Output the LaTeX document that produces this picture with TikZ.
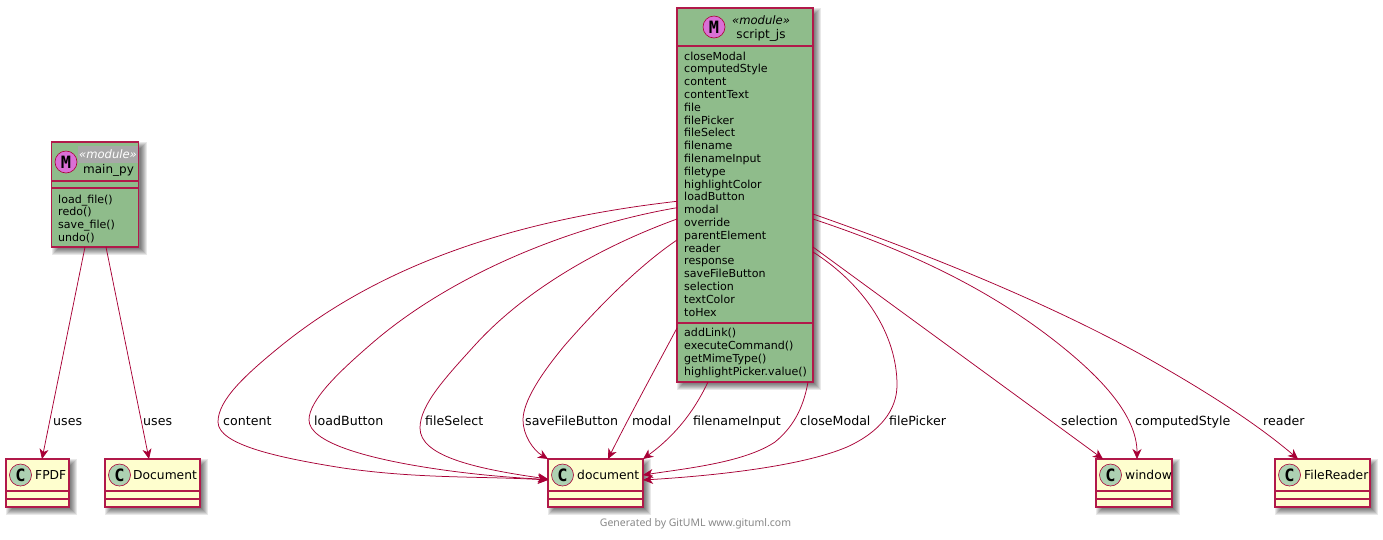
\documentclass[tikz,border=0pt]{standalone}
\usepackage{fontspec}
\setmainfont{DejaVu Sans}
\newfontfamily\footfont{Noto Sans}
\newfontfamily\glyphfont{DejaVu Sans Mono}
\usetikzlibrary{arrows.meta,calc}
\definecolor{umlred}{HTML}{A80036}
\definecolor{umlyellow}{HTML}{FEFECE}
\definecolor{umlgreen}{HTML}{8FBC8B}
\definecolor{circC}{HTML}{ADD1B2}
\definecolor{circM}{HTML}{DA70D6}
\definecolor{footgray}{HTML}{888888}
\tikzset{
  x=1pt,y=-1pt,
  boxshape/.style={draw=umlred!90!white,line width=1.25pt,rectangle,inner sep=0pt,outer sep=0pt,anchor=north west},
  sepline/.style={draw=umlred!90!white,line width=1.25pt},
  member/.style={font=\fontsize{11.05}{12}\selectfont,anchor=base west,inner sep=0pt,text=black},
  title/.style={font=\fontsize{12}{14}\selectfont,anchor=base,inner sep=0pt,text=black},
  classtitle/.style={font=\fontsize{12.3}{14}\selectfont,anchor=base west,inner sep=0pt,text=black},
  stereo/.style={font=\fontsize{11.6}{14}\selectfont\itshape,anchor=base,inner sep=0pt,text=black},
  rel/.style={draw=umlred,line width=0.75pt,-{Stealth[length=10pt,width=9pt,inset=3pt]}},
  rellabel/.style={font=\fontsize{12.6}{15}\selectfont,anchor=base west,inner sep=0pt,text=black},
  badge/.style={circle,draw=umlred,line width=0.6pt,minimum size=22pt,inner sep=0pt,font=\glyphfont\bfseries\fontsize{17}{17}\selectfont,text=black},
}
% #1 name, #2 x1, #3 y1, #4 x2, #5 y2, #6 fill
\newcommand{\umlbox}[6]{%
  \foreach \s in {4,3,2,1,0,-1,-2}{\fill[black,opacity=0.09] (#2+4-\s,#3+4-\s) rectangle (#4+4+\s,#5+4+\s);}
  \node[boxshape,fill=#6,minimum width={#4-#2},minimum height={#5-#3}] (#1) at (#2,#3) {};
}
% class box: #1 name, #2 x1, #3 x2, #4 text, #5 text left
\newcommand{\classbox}[5]{%
  \umlbox{#1}{#2}{459}{#3}{507}{umlyellow}
  \draw[sepline] ([yshift=-32pt]#1.north west) -- ([yshift=-32pt]#1.north east);
  \draw[sepline] ([yshift=-40pt]#1.north west) -- ([yshift=-40pt]#1.north east);
  \node[badge,fill=circC] (#1C) at (#2+14.5,475) {C};
  \node[classtitle] (#1T) at (#5,479) {#4};
}
\begin{document}
\begin{tikzpicture}
\useasboundingbox (0,0) rectangle (1383,539);
\fill[white] (0,0) rectangle (1383,539);

% main_py
\umlbox{main}{51.5}{142}{138.5}{247}{umlgreen}
\draw[sepline] ([yshift=-39pt]main.north west) -- ([yshift=-39pt]main.north east);
\draw[sepline] ([yshift=-46pt]main.north west) -- ([yshift=-46pt]main.north east);
\fill[black!34] (78,146) rectangle (138,163);
\node[badge,fill=circM] (mainM) at (66,162) {M};
\node[stereo,text=white] (mainS) at (108,158) {«module»};
\node[title] (mainT) at (108.5,173) {main\_py};
\foreach \t [count=\i] in {load\_file(),redo(),save\_file(),undo()}
  \node[member] (mm\i) at (58,{190.2+12.8*\i}) {\t};

% script_js
\umlbox{js}{677}{8}{813}{382}{umlgreen}
\draw[sepline] ([yshift=-38pt]js.north west) -- ([yshift=-38pt]js.north east);
\draw[sepline] ([yshift=-315pt]js.north west) -- ([yshift=-315pt]js.north east);
\node[badge,fill=circM] (jsM) at (714,27) {M};
\node[stereo] (jsS) at (761,24) {«module»};
\node[title] (jsT) at (761,38) {script\_js};
\foreach \t [count=\i] in {closeModal,computedStyle,content,contentText,file,filePicker,fileSelect,filename,filenameInput,filetype,highlightColor,loadButton,modal,override,parentElement,reader,response,saveFileButton,selection,textColor,toHex}
  \node[member] (jsa\i) at (684,{47.2+12.8*\i}) {\t};
\foreach \t [count=\i] in {addLink(),executeCommand(),getMimeType(),highlightPicker.value()}
  \node[member] (jsm\i) at (684,{323.9+12.8*\i}) {\t};

% classes
\classbox{fpdf}{6}{69}{FPDF}{35}
\classbox{pydoc}{105}{200}{Document}{133}
\classbox{doc}{548}{643}{document}{577}
\classbox{win}{1096}{1172}{window}{1125}
\classbox{fr}{1275}{1370}{FileReader}{1304}

% connectors
\draw[rel] ([xshift=33.5pt]main.south west) -- ([xshift=36pt]fpdf.north west);
\draw[rel] ([xshift=54.5pt]main.south west) -- ([xshift=44pt]pydoc.north west);

\draw[rel] ([yshift=-193.3pt]js.north west) .. controls (530,218) and (390,258) .. (282,345) .. controls (245,375) and (218,400) .. (218,422) .. controls (218,445) and (280,458) .. (343,468) .. controls (420,479) and (480,476) .. ([yshift=-21pt]doc.north west);
\draw[rel] ([yshift=-199.7pt]js.north west) .. controls (570,226) and (450,275) .. (370,345) .. controls (340,371) and (309,400) .. (309,420) .. controls (309,442) and (365,458) .. (430,468) .. controls (480,475.7) and (520,478) .. ([yshift=-20.5pt]doc.north west);
\draw[rel] ([yshift=-211pt]js.north west) .. controls (600,247) and (525,290) .. (475,345) .. controls (445,378) and (420,405) .. (420,428) .. controls (420,455) and (470,468) .. ([yshift=-20pt]doc.north west);
\draw[rel] ([yshift=-232pt]js.north west) .. controls (640,265) and (600,305) .. (565,345) .. controls (540,375) and (523,402) .. (523,420) .. controls (523,435) and (533,450) .. (doc.north west);
\draw[rel] ([yshift=-320pt]js.north west) .. controls (660,360) and (630,415) .. ([xshift=60pt]doc.north west);
\draw[rel] ([xshift=31pt]js.south west) .. controls (697,405) and (680,432) .. (doc.north east);
\draw[rel] ([xshift=-5pt]js.south east) .. controls (803,410) and (792,428) .. (775,442) .. controls (745,462) and (690,468) .. ([yshift=-16pt]doc.north east);
\draw[rel] ([yshift=-244pt]js.north east) .. controls (865,285) and (897,335) .. (897,385) .. controls (897,410) and (880,432) .. (847,447) .. controls (800,467) and (710,476) .. ([yshift=-21pt]doc.north east);
\draw[rel] ([yshift=-239pt]js.north east) .. controls (910,318) and (1006,388) .. ([xshift=7pt]win.north west);
\draw[rel] ([yshift=-211pt]js.north east) .. controls (900,248) and (985,285) .. (1060,345) .. controls (1100,377) and (1137,415) .. ([xshift=41pt]win.north west);
\draw[rel] ([yshift=-206pt]js.north east) .. controls (950,262) and (1060,310) .. (1140,354) .. controls (1190,382) and (1250,418) .. ([xshift=23pt]fr.north west);

% connector labels
\node[rellabel] (l1) at (53,425) {uses};
\node[rellabel] (l2) at (143,425) {uses};
\node[rellabel] (l3) at (223,425) {content};
\node[rellabel] (l4) at (314,425) {loadButton};
\node[rellabel] (l5) at (425,425) {fileSelect};
\node[rellabel] (l6) at (525,425) {saveFileButton};
\node[rellabel] (l7) at (632,425) {modal};
\node[rellabel] (l8) at (693,425) {filenameInput};
\node[rellabel] (l9) at (800,425) {closeModal};
\node[rellabel] (l10) at (889,425) {filePicker};
\node[rellabel] (l11) at (1061,425) {selection};
\node[rellabel] (l12) at (1135,425) {computedStyle};
\node[rellabel] (l13) at (1263,425) {reader};

\node[font=\footfont\fontsize{10.45}{12}\selectfont,text=footgray,inner sep=0pt,anchor=base] (foot) at (695.5,526) {Generated by GitUML www.gituml.com};
\end{tikzpicture}
\end{document}
